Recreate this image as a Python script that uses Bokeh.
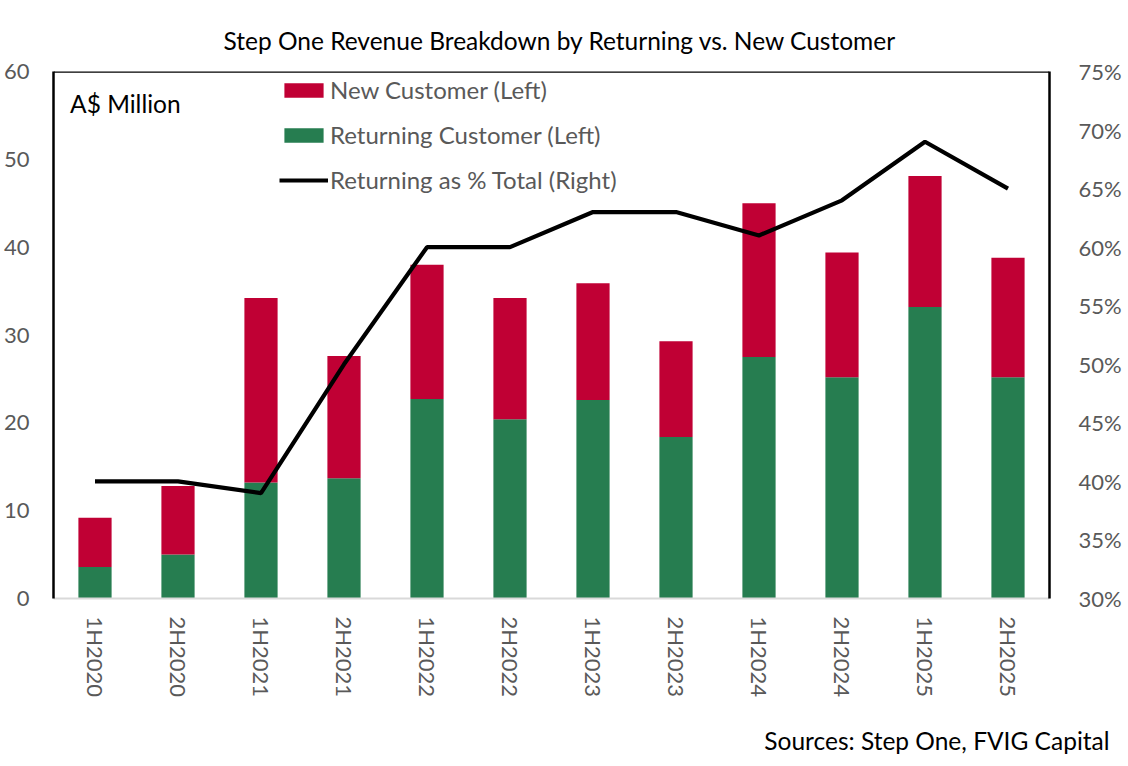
import math
from bokeh.plotting import figure
from bokeh.models import (FactorRange, Range1d, LinearAxis, FixedTicker, PrintfTickFormatter,
                          Legend, LegendItem, Label, Span, Title, ColumnDataSource)
from bokeh.embed import file_html
from bokeh.resources import INLINE

periods = ["1H2020", "2H2020", "1H2021", "2H2021", "1H2022", "2H2022",
           "1H2023", "2H2023", "1H2024", "2H2024", "1H2025", "2H2025"]
returning_customer = [3.6, 5.0, 13.2, 13.7, 22.7, 20.4, 22.6, 18.4, 27.5, 25.2, 33.2, 25.2]
new_customer = [5.6, 7.8, 21.0, 13.9, 15.3, 13.8, 13.3, 10.9, 17.5, 14.2, 14.9, 13.6]
returning_pct = [40, 40, 39, 50, 60, 60, 63, 63, 61, 64, 69, 65]
left_ticks = [0, 10, 20, 30, 40, 50, 60]
right_ticks = [30, 35, 40, 45, 50, 55, 60, 65, 70, 75]

FONT = "Lato"
GREY = "#595959"
RED = "#C00034"
GREEN = "#267D50"

src = ColumnDataSource(dict(period=periods, returning=returning_customer,
                            new=new_customer, pct=returning_pct))

p = figure(x_range=FactorRange(*periods), y_range=Range1d(0, 60),
           frame_width=996, frame_height=527,
           min_border_left=48, min_border_right=70, min_border_top=71, min_border_bottom=160,
           output_backend="svg", toolbar_location=None)
p.extra_y_ranges = {"pct": Range1d(30, 75)}

rs = p.vbar_stack(["returning", "new"], x="period", width=0.4, source=src,
                  color=[GREEN, RED], line_width=0)
r_line = p.line(x="period", y="pct", source=src, y_range_name="pct",
                line_color="black", line_width=4.2)

p.xgrid.grid_line_color = None
p.ygrid.grid_line_color = None
p.outline_line_color = None
p.background_fill_color = "white"
p.border_fill_color = "white"

# left axis
ya = p.yaxis[0]
ya.ticker = FixedTicker(ticks=left_ticks)
ya.axis_line_color = "black"
ya.axis_line_width = 2.5
ya.major_tick_line_color = None
ya.minor_tick_line_color = None
ya.major_label_standoff = 18
ya.major_label_text_font = FONT
ya.major_label_text_font_size = "22px"
ya.major_label_text_color = GREY

# right axis
ra = LinearAxis(y_range_name="pct", ticker=FixedTicker(ticks=right_ticks),
                formatter=PrintfTickFormatter(format="%d%%"))
ra.axis_line_color = "black"
ra.axis_line_width = 2.5
ra.major_tick_line_color = None
ra.minor_tick_line_color = None
ra.major_label_standoff = 23
ra.major_label_text_font = FONT
ra.major_label_text_font_size = "22px"
ra.major_label_text_color = GREY
p.add_layout(ra, "right")

# x axis
xa = p.xaxis[0]
xa.axis_line_color = "#D9D9D9"
xa.axis_line_width = 2
xa.major_tick_line_color = None
xa.minor_tick_line_color = None
xa.major_label_orientation = -math.pi / 2
xa.major_label_standoff = 12
xa.major_label_text_font = FONT
xa.major_label_text_font_size = "22px"
xa.major_label_text_color = GREY

# top border
p.add_layout(Span(location=60, dimension="width", line_color="black", line_width=2.5))

# title
p.title.text = "Step One Revenue Breakdown by Returning vs. New Customer"
p.title.align = "left"
p.title.offset = 170
p.title.standoff = 34
p.title.text_font = FONT
p.title.text_font_size = "24.5px"
p.title.text_font_style = "normal"
p.title.text_color = "black"

# source note
p.add_layout(Title(text="Sources: Step One, FVIG Capital", align="right", offset=-60,
                   standoff=46, text_font=FONT, text_font_size="24.5px",
                   text_font_style="normal", text_color="black"), "below")

p.add_layout(Label(x=0.2, y=56.4, text="A$ Million", text_baseline="middle",
                   text_font=FONT, text_font_size="24.5px", text_color="black"))

legend = Legend(items=[LegendItem(label="New Customer (Left)", renderers=[rs[1]]),
                       LegendItem(label="Returning Customer (Left)", renderers=[rs[0]]),
                       LegendItem(label="Returning as % Total (Right)", renderers=[r_line])],
                location=(226, 404), glyph_width=49, glyph_height=18, label_standoff=2,
                spacing=16, padding=0, margin=0, border_line_color=None,
                background_fill_alpha=0, label_text_font=FONT, label_text_font_size="24px",
                label_text_color=GREY, label_height=25)
p.add_layout(legend)

open("out.html", "w").write(file_html(p, INLINE))
